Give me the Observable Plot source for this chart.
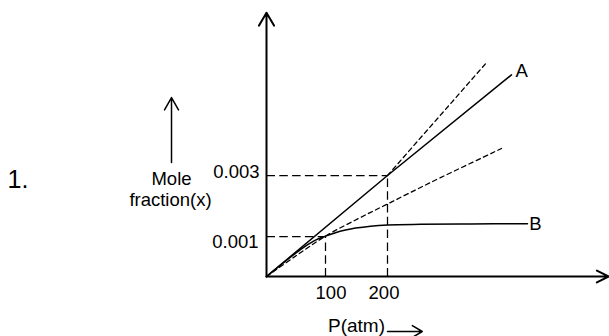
<!DOCTYPE html>
<html><head><meta charset="utf-8">
<script src="https://cdn.jsdelivr.net/npm/d3@7"></script>
<script src="https://cdn.jsdelivr.net/npm/@observablehq/plot@0.6"></script>
<style>html,body{margin:0;padding:0;background:#fff}</style>
</head><body><div id="chart"></div>
<script>
// ---- data ----
const pressureTicks = [100, 200];
const pressureTickLabels = ["100", "200"];
const fractionTicks = [0.001, 0.003];
const fractionTickLabels = ["0.001", "0.003"];
const curveNames = ["A", "B"];

const lineAPressure = [0, 200, 400];
const lineAFraction = [0, 0.003, 0.0063];

const curveBPressure = [0, 23.7, 49.2, 66.1, 83.1, 100, 116.1, 132.3, 148.4, 172.6, 200, 253.2, 333.9, 425.8];
const curveBFraction = [0, 0.000285, 0.00058, 0.00076, 0.00091, 0.001013, 0.001125, 0.00121, 0.001275, 0.00134, 0.00138, 0.0014, 0.00141, 0.00142];

const lowerDashPressure = [0, 50.8, 101.6, 153.2, 201.6, 269.4, 383.9];
const lowerDashFraction = [0, 0.000525, 0.001033, 0.00159, 0.002082, 0.00277, 0.003885];

const upperDashPressure = [200, 359.7];
const upperDashFraction = [0.003, 0.0067];

// axis extents (data units)
const pressureMax = 557;
const fractionMax = 0.00834;

// the sketch is not drawn to scale: its tick spacing is uneven, so the scales
// warp data piecewise-linearly through the labelled ticks
const xWarp = d3.scaleLinear([0, 100, 200], [0, 59, 121]);
const yWarp = d3.scaleLinear([0, 0.001, 0.003], [0, 40, 101]);

// ---- tables built from the arrays ----
const zip = (P, X) => P.map((p, i) => ({p, x: X[i]}));
const lineA = zip(lineAPressure, lineAFraction);
const curveB = zip(curveBPressure, curveBFraction);
const lowerDash = zip(lowerDashPressure, lowerDashFraction);
const upperDash = zip(upperDashPressure, upperDashFraction);
const guides = pressureTicks.map((p, i) => ({p, x: fractionTicks[i]}));
const xTicks = pressureTicks.map((p, i) => ({p, label: pressureTickLabels[i]}));
const yTicks = fractionTicks.map((x, i) => ({x, label: fractionTickLabels[i]}));
const ends = [
  {...lineA[lineA.length - 1], name: curveNames[0]},
  {...curveB[curveB.length - 1], name: curveNames[1]}
];

const font = "'Liberation Sans', Arial, Helvetica, sans-serif";

const chart = Plot.plot({
  width: 609,
  height: 336,
  marginTop: 0, marginRight: 0, marginBottom: 0, marginLeft: 0,
  style: {fontFamily: font, background: "#fff", color: "#000", overflow: "visible"},
  x: {axis: null, type: "linear", transform: xWarp, domain: [0, 343], range: [266, 609]},
  y: {axis: null, type: "linear", transform: yWarp, domain: [0, 264], range: [276, 12]},
  marks: [
    // dashed guide lines
    Plot.link(guides, {x1: 0, x2: "p", y1: "x", y2: "x", stroke: "#000", strokeWidth: 1.25, strokeDasharray: "8.5,4.3"}),
    Plot.link(guides, {x1: "p", x2: "p", y1: 0, y2: "x", stroke: "#000", strokeWidth: 1.25, strokeDasharray: "8.5,4.3"}),
    // dashed tangents
    Plot.line(lowerDash, {x: "p", y: "x", curve: "catmull-rom", stroke: "#000", strokeWidth: 1.3, strokeDasharray: "4.5,3.5"}),
    Plot.line(upperDash, {x: "p", y: "x", stroke: "#000", strokeWidth: 1.3, strokeDasharray: "4.5,3.5"}),
    // curves
    Plot.line(lineA, {x: "p", y: "x", stroke: "#000", strokeWidth: 1.5}),
    Plot.line(curveB, {x: "p", y: "x", curve: "catmull-rom", stroke: "#000", strokeWidth: 1.5}),
    // axes
    Plot.arrow([0], {x1: 0, y1: 0, x2: 0, y2: fractionMax, stroke: "#000", strokeWidth: 2, headLength: 11.25, headAngle: 60}),
    Plot.arrow([0], {x1: 0, y1: 0, x2: pressureMax, y2: 0, stroke: "#000", strokeWidth: 2, headLength: 10, headAngle: 53}),
    // tick labels
    Plot.text(xTicks.slice(0, 1), {x: "p", y: 0, text: "label", fontSize: 18.5, textAnchor: "middle", lineAnchor: "bottom", dx: 5.5, dy: 22.3, fill: "#000"}),
    Plot.text(xTicks.slice(1, 2), {x: "p", y: 0, text: "label", fontSize: 18.5, textAnchor: "middle", lineAnchor: "bottom", dx: -3.5, dy: 22.3, fill: "#000"}),
    Plot.text(yTicks.slice(0, 1), {x: 0, y: "x", text: "label", fontSize: 18.5, textAnchor: "end", lineAnchor: "bottom", dx: -8, dy: 11.3, fill: "#000"}),
    Plot.text(yTicks.slice(1, 2), {x: 0, y: "x", text: "label", fontSize: 18.5, textAnchor: "end", lineAnchor: "bottom", dx: -7, dy: 2.3, fill: "#000"}),
    // curve names
    Plot.text(ends.slice(0, 1), {x: "p", y: "x", text: "name", fontSize: 18.5, textAnchor: "start", lineAnchor: "bottom", dx: 4, dy: 2.3, fill: "#000"}),
    Plot.text(ends.slice(1, 2), {x: "p", y: "x", text: "name", fontSize: 18.5, textAnchor: "start", lineAnchor: "bottom", dx: 1.8, dy: 6.8, fill: "#000"}),
    // axis titles and arrows
    Plot.text(["Mole"], {frameAnchor: "top-left", text: d => d, fontSize: 18.5, textAnchor: "middle", lineAnchor: "bottom", dx: 171, dy: 184, fill: "#000"}),
    Plot.text(["fraction(x)"], {frameAnchor: "top-left", text: d => d, fontSize: 18.5, textAnchor: "middle", lineAnchor: "bottom", dx: 170, dy: 205, fill: "#000"}),
    Plot.arrow([0], {x1: -161, x2: -161, y1: 0.003426, y2: 0.005557, stroke: "#000", strokeWidth: 1.5, headLength: 14.2, headAngle: 59}),
    Plot.text(["P(atm)"], {frameAnchor: "top-left", text: d => d, fontSize: 19, textAnchor: "middle", lineAnchor: "bottom", dx: 356, dy: 331.5, fill: "#000"}),
    Plot.arrow([0], {x1: 200, x2: 256, y1: -0.001375, y2: -0.001375, stroke: "#000", strokeWidth: 1.5, headLength: 11.5, headAngle: 62}),
    Plot.text(["1."], {frameAnchor: "top-left", text: d => d, fontSize: 25, textAnchor: "start", lineAnchor: "bottom", dx: 7, dy: 187, fill: "#000"})
  ]
});
document.getElementById("chart").appendChild(chart);
</script>
</body></html>
